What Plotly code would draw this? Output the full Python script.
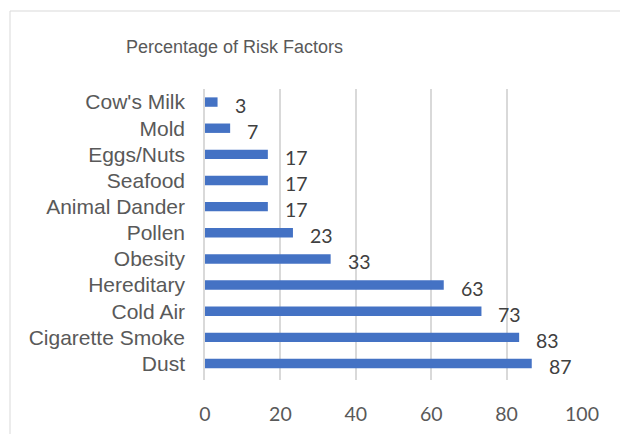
import plotly.graph_objects as go

categories = ["Dust", "Cigarette Smoke", "Cold Air", "Hereditary", "Obesity",
              "Pollen", "Animal Dander", "Seafood", "Eggs/Nuts", "Mold", "Cow's Milk"]
values = [86.67, 83.33, 73.33, 63.33, 33.33, 23.33, 16.67, 16.67, 16.67, 6.67, 3.33]
labels = ["87", "83", "73", "63", "33", "23", "17", "17", "17", "7", "3"]
x_ticks = [0, 20, 40, 60, 80, 100]

BAR = "#4472C4"
GRID = "#D9D9D9"

W, H = 620, 434
ML, MR, MT, MB = 205, 38, 89, 54
PW, PH = W - ML - MR, H - MT - MB


def px_x(px):
    return (px - ML) / PW


def px_y(py):
    return 1 + (MT - py) / PH


fig = go.Figure()
fig.add_trace(go.Bar(
    x=values, y=categories, orientation="h",
    marker=dict(color=BAR, line=dict(width=0)),
    width=0.36, hoverinfo="skip",
))

for v, c, t in zip(values, categories, labels):
    fig.add_annotation(
        x=v, y=c, text=t, showarrow=False, xanchor="left", yanchor="middle",
        xshift=15, yshift=-3,
        font=dict(family="Lato", size=19.5, color="#404040"),
    )

fig.add_annotation(
    x=px_x(234), y=px_y(47), xref="paper", yref="paper",
    text="Percentage of Risk Factors", showarrow=False,
    xanchor="center", yanchor="middle",
    font=dict(family="Liberation Sans", size=18, color="#595959"),
)

fig.add_shape(
    type="rect", xref="paper", yref="paper",
    x0=px_x(10), x1=px_x(700), y0=px_y(500), y1=px_y(11),
    line=dict(color=GRID, width=1), fillcolor="rgba(0,0,0,0)", layer="below",
)

fig.update_layout(
    width=W, height=H,
    margin=dict(l=ML, r=MR, t=MT, b=MB, autoexpand=False),
    paper_bgcolor="white", plot_bgcolor="white",
    showlegend=False,
    xaxis=dict(
        range=[0, 100], tickvals=x_ticks, ticktext=[str(t) for t in x_ticks],
        showgrid=True, gridcolor=GRID, gridwidth=1.5,
        zeroline=False, showline=False, ticks="",
        ticklabelstandoff=20,
        tickfont=dict(family="Lato", size=19.5, color="#595959"),
        fixedrange=True,
    ),
    yaxis=dict(
        categoryorder="array", categoryarray=categories,
        showgrid=False, zeroline=False,
        showline=True, linecolor=GRID, linewidth=1.5,
        ticks="", ticklabelstandoff=14,
        tickfont=dict(family="Liberation Sans", size=21, color="#595959"),
        fixedrange=True,
    ),
)

fig.write_html("out.html", config={"displayModeBar": False},
               post_script="document.body.style.margin='0';")
